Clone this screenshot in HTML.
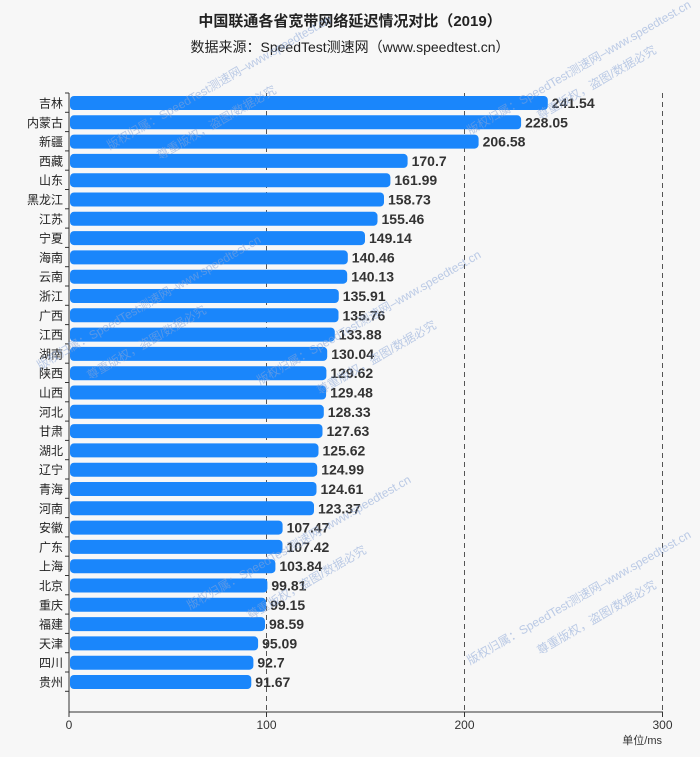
<!DOCTYPE html>
<html><head><meta charset="utf-8"><style>
body{margin:0;background:#f7f7f7;}
svg{display:block;font-family:"Liberation Sans","Noto Sans CJK SC",sans-serif;}
.b{fill:#1a86fb}
.n{font-size:12px;fill:#222;text-anchor:end}
.v{font-size:14px;font-weight:bold;fill:#333}
.t{stroke:#333}
</style></head><body>
<svg width="700" height="757" viewBox="0 0 700 757" xmlns="http://www.w3.org/2000/svg">
<rect width="700" height="757" fill="#f7f7f7"/>
<text x="350" y="26" text-anchor="middle" font-size="15" font-weight="bold" fill="#222">中国联通各省宽带网络延迟情况对比（2019）</text>
<text x="350" y="52" text-anchor="middle" font-size="14" fill="#222">数据来源：SpeedTest测速网（www.speedtest.cn）</text>
<g stroke="#555" stroke-dasharray="5,4" stroke-width="1">
<line x1="266.5" y1="93" x2="266.5" y2="712"/>
<line x1="464.5" y1="93" x2="464.5" y2="712"/>
<line x1="662.5" y1="93" x2="662.5" y2="712"/>
</g>
<g transform="translate(0,93)"><rect class="b" x="70" y="3" width="477.8" height="14" rx="4"/><text class="n" x="63" y="14.5">吉林</text><text class="v" x="551.8" y="15">241.54</text><line class="t" x1="65" y1="0" x2="69" y2="0"/></g>
<g transform="translate(0,112.3)"><rect class="b" x="70" y="3" width="451.1" height="14" rx="4"/><text class="n" x="63" y="14.5">内蒙古</text><text class="v" x="525.1" y="15">228.05</text><line class="t" x1="65" y1="0" x2="69" y2="0"/></g>
<g transform="translate(0,131.6)"><rect class="b" x="70" y="3" width="408.6" height="14" rx="4"/><text class="n" x="63" y="14.5">新疆</text><text class="v" x="482.6" y="15">206.58</text><line class="t" x1="65" y1="0" x2="69" y2="0"/></g>
<g transform="translate(0,150.9)"><rect class="b" x="70" y="3" width="337.6" height="14" rx="4"/><text class="n" x="63" y="14.5">西藏</text><text class="v" x="411.6" y="15">170.7</text><line class="t" x1="65" y1="0" x2="69" y2="0"/></g>
<g transform="translate(0,170.2)"><rect class="b" x="70" y="3" width="320.4" height="14" rx="4"/><text class="n" x="63" y="14.5">山东</text><text class="v" x="394.4" y="15">161.99</text><line class="t" x1="65" y1="0" x2="69" y2="0"/></g>
<g transform="translate(0,189.5)"><rect class="b" x="70" y="3" width="314.0" height="14" rx="4"/><text class="n" x="63" y="14.5">黑龙江</text><text class="v" x="388.0" y="15">158.73</text><line class="t" x1="65" y1="0" x2="69" y2="0"/></g>
<g transform="translate(0,208.8)"><rect class="b" x="70" y="3" width="307.5" height="14" rx="4"/><text class="n" x="63" y="14.5">江苏</text><text class="v" x="381.5" y="15">155.46</text><line class="t" x1="65" y1="0" x2="69" y2="0"/></g>
<g transform="translate(0,228.1)"><rect class="b" x="70" y="3" width="295.0" height="14" rx="4"/><text class="n" x="63" y="14.5">宁夏</text><text class="v" x="369.0" y="15">149.14</text><line class="t" x1="65" y1="0" x2="69" y2="0"/></g>
<g transform="translate(0,247.4)"><rect class="b" x="70" y="3" width="277.8" height="14" rx="4"/><text class="n" x="63" y="14.5">海南</text><text class="v" x="351.8" y="15">140.46</text><line class="t" x1="65" y1="0" x2="69" y2="0"/></g>
<g transform="translate(0,266.7)"><rect class="b" x="70" y="3" width="277.2" height="14" rx="4"/><text class="n" x="63" y="14.5">云南</text><text class="v" x="351.2" y="15">140.13</text><line class="t" x1="65" y1="0" x2="69" y2="0"/></g>
<g transform="translate(0,286)"><rect class="b" x="70" y="3" width="268.8" height="14" rx="4"/><text class="n" x="63" y="14.5">浙江</text><text class="v" x="342.8" y="15">135.91</text><line class="t" x1="65" y1="0" x2="69" y2="0"/></g>
<g transform="translate(0,305.3)"><rect class="b" x="70" y="3" width="268.5" height="14" rx="4"/><text class="n" x="63" y="14.5">广西</text><text class="v" x="342.5" y="15">135.76</text><line class="t" x1="65" y1="0" x2="69" y2="0"/></g>
<g transform="translate(0,324.6)"><rect class="b" x="70" y="3" width="264.8" height="14" rx="4"/><text class="n" x="63" y="14.5">江西</text><text class="v" x="338.8" y="15">133.88</text><line class="t" x1="65" y1="0" x2="69" y2="0"/></g>
<g transform="translate(0,343.9)"><rect class="b" x="70" y="3" width="257.2" height="14" rx="4"/><text class="n" x="63" y="14.5">湖南</text><text class="v" x="331.2" y="15">130.04</text><line class="t" x1="65" y1="0" x2="69" y2="0"/></g>
<g transform="translate(0,363.2)"><rect class="b" x="70" y="3" width="256.4" height="14" rx="4"/><text class="n" x="63" y="14.5">陕西</text><text class="v" x="330.4" y="15">129.62</text><line class="t" x1="65" y1="0" x2="69" y2="0"/></g>
<g transform="translate(0,382.5)"><rect class="b" x="70" y="3" width="256.1" height="14" rx="4"/><text class="n" x="63" y="14.5">山西</text><text class="v" x="330.1" y="15">129.48</text><line class="t" x1="65" y1="0" x2="69" y2="0"/></g>
<g transform="translate(0,401.8)"><rect class="b" x="70" y="3" width="253.8" height="14" rx="4"/><text class="n" x="63" y="14.5">河北</text><text class="v" x="327.8" y="15">128.33</text><line class="t" x1="65" y1="0" x2="69" y2="0"/></g>
<g transform="translate(0,421.1)"><rect class="b" x="70" y="3" width="252.5" height="14" rx="4"/><text class="n" x="63" y="14.5">甘肃</text><text class="v" x="326.5" y="15">127.63</text><line class="t" x1="65" y1="0" x2="69" y2="0"/></g>
<g transform="translate(0,440.4)"><rect class="b" x="70" y="3" width="248.5" height="14" rx="4"/><text class="n" x="63" y="14.5">湖北</text><text class="v" x="322.5" y="15">125.62</text><line class="t" x1="65" y1="0" x2="69" y2="0"/></g>
<g transform="translate(0,459.7)"><rect class="b" x="70" y="3" width="247.2" height="14" rx="4"/><text class="n" x="63" y="14.5">辽宁</text><text class="v" x="321.2" y="15">124.99</text><line class="t" x1="65" y1="0" x2="69" y2="0"/></g>
<g transform="translate(0,479)"><rect class="b" x="70" y="3" width="246.5" height="14" rx="4"/><text class="n" x="63" y="14.5">青海</text><text class="v" x="320.5" y="15">124.61</text><line class="t" x1="65" y1="0" x2="69" y2="0"/></g>
<g transform="translate(0,498.3)"><rect class="b" x="70" y="3" width="244.0" height="14" rx="4"/><text class="n" x="63" y="14.5">河南</text><text class="v" x="318.0" y="15">123.37</text><line class="t" x1="65" y1="0" x2="69" y2="0"/></g>
<g transform="translate(0,517.6)"><rect class="b" x="70" y="3" width="212.6" height="14" rx="4"/><text class="n" x="63" y="14.5">安徽</text><text class="v" x="286.6" y="15">107.47</text><line class="t" x1="65" y1="0" x2="69" y2="0"/></g>
<g transform="translate(0,536.9)"><rect class="b" x="70" y="3" width="212.5" height="14" rx="4"/><text class="n" x="63" y="14.5">广东</text><text class="v" x="286.5" y="15">107.42</text><line class="t" x1="65" y1="0" x2="69" y2="0"/></g>
<g transform="translate(0,556.2)"><rect class="b" x="70" y="3" width="205.4" height="14" rx="4"/><text class="n" x="63" y="14.5">上海</text><text class="v" x="279.4" y="15">103.84</text><line class="t" x1="65" y1="0" x2="69" y2="0"/></g>
<g transform="translate(0,575.5)"><rect class="b" x="70" y="3" width="197.4" height="14" rx="4"/><text class="n" x="63" y="14.5">北京</text><text class="v" x="271.4" y="15">99.81</text><line class="t" x1="65" y1="0" x2="69" y2="0"/></g>
<g transform="translate(0,594.8)"><rect class="b" x="70" y="3" width="196.1" height="14" rx="4"/><text class="n" x="63" y="14.5">重庆</text><text class="v" x="270.1" y="15">99.15</text><line class="t" x1="65" y1="0" x2="69" y2="0"/></g>
<g transform="translate(0,614.1)"><rect class="b" x="70" y="3" width="195.0" height="14" rx="4"/><text class="n" x="63" y="14.5">福建</text><text class="v" x="269.0" y="15">98.59</text><line class="t" x1="65" y1="0" x2="69" y2="0"/></g>
<g transform="translate(0,633.4)"><rect class="b" x="70" y="3" width="188.1" height="14" rx="4"/><text class="n" x="63" y="14.5">天津</text><text class="v" x="262.1" y="15">95.09</text><line class="t" x1="65" y1="0" x2="69" y2="0"/></g>
<g transform="translate(0,652.7)"><rect class="b" x="70" y="3" width="183.4" height="14" rx="4"/><text class="n" x="63" y="14.5">四川</text><text class="v" x="257.4" y="15">92.7</text><line class="t" x1="65" y1="0" x2="69" y2="0"/></g>
<g transform="translate(0,672)"><rect class="b" x="70" y="3" width="181.3" height="14" rx="4"/><text class="n" x="63" y="14.5">贵州</text><text class="v" x="255.3" y="15">91.67</text><line class="t" x1="65" y1="0" x2="69" y2="0"/><line class="t" x1="65" y1="19.3" x2="69" y2="19.3"/></g>
<line x1="69" y1="93" x2="69" y2="712" stroke="#333"/>
<line x1="69" y1="712" x2="663" y2="712" stroke="#333"/>
<g stroke="#333">
<line x1="69" y1="712" x2="69" y2="717"/><line x1="266.5" y1="712" x2="266.5" y2="717"/><line x1="464.5" y1="712" x2="464.5" y2="717"/><line x1="662.5" y1="712" x2="662.5" y2="717"/>
</g>
<g font-size="12" fill="#333" text-anchor="middle">
<text x="69" y="729">0</text><text x="266.5" y="729">100</text><text x="464.5" y="729">200</text><text x="662.5" y="729">300</text>
</g>
<text x="662" y="744" text-anchor="end" font-size="11" fill="#333">单位/ms</text>
<g font-size="12" fill="#8aa6d8" opacity="0.55">
<text transform="translate(110,150) rotate(-30)">版权归属：SpeedTest测速网–www.speedtest.cn</text>
<text transform="translate(160,160) rotate(-30)">尊重版权，盗图/数据必究</text>
<text transform="translate(470,135) rotate(-30)">版权归属：SpeedTest测速网–www.speedtest.cn</text>
<text transform="translate(540,120) rotate(-30)">尊重版权，盗图/数据必究</text>
<text transform="translate(40,370) rotate(-30)">版权归属：SpeedTest测速网–www.speedtest.cn</text>
<text transform="translate(90,380) rotate(-30)">尊重版权，盗图/数据必究</text>
<text transform="translate(260,385) rotate(-30)">版权归属：SpeedTest测速网–www.speedtest.cn</text>
<text transform="translate(320,395) rotate(-30)">尊重版权，盗图/数据必究</text>
<text transform="translate(190,610) rotate(-30)">版权归属：SpeedTest测速网–www.speedtest.cn</text>
<text transform="translate(250,620) rotate(-30)">尊重版权，盗图/数据必究</text>
<text transform="translate(470,665) rotate(-30)">版权归属：SpeedTest测速网–www.speedtest.cn</text>
<text transform="translate(540,655) rotate(-30)">尊重版权，盗图/数据必究</text>
</g>
</svg>
</body></html>
